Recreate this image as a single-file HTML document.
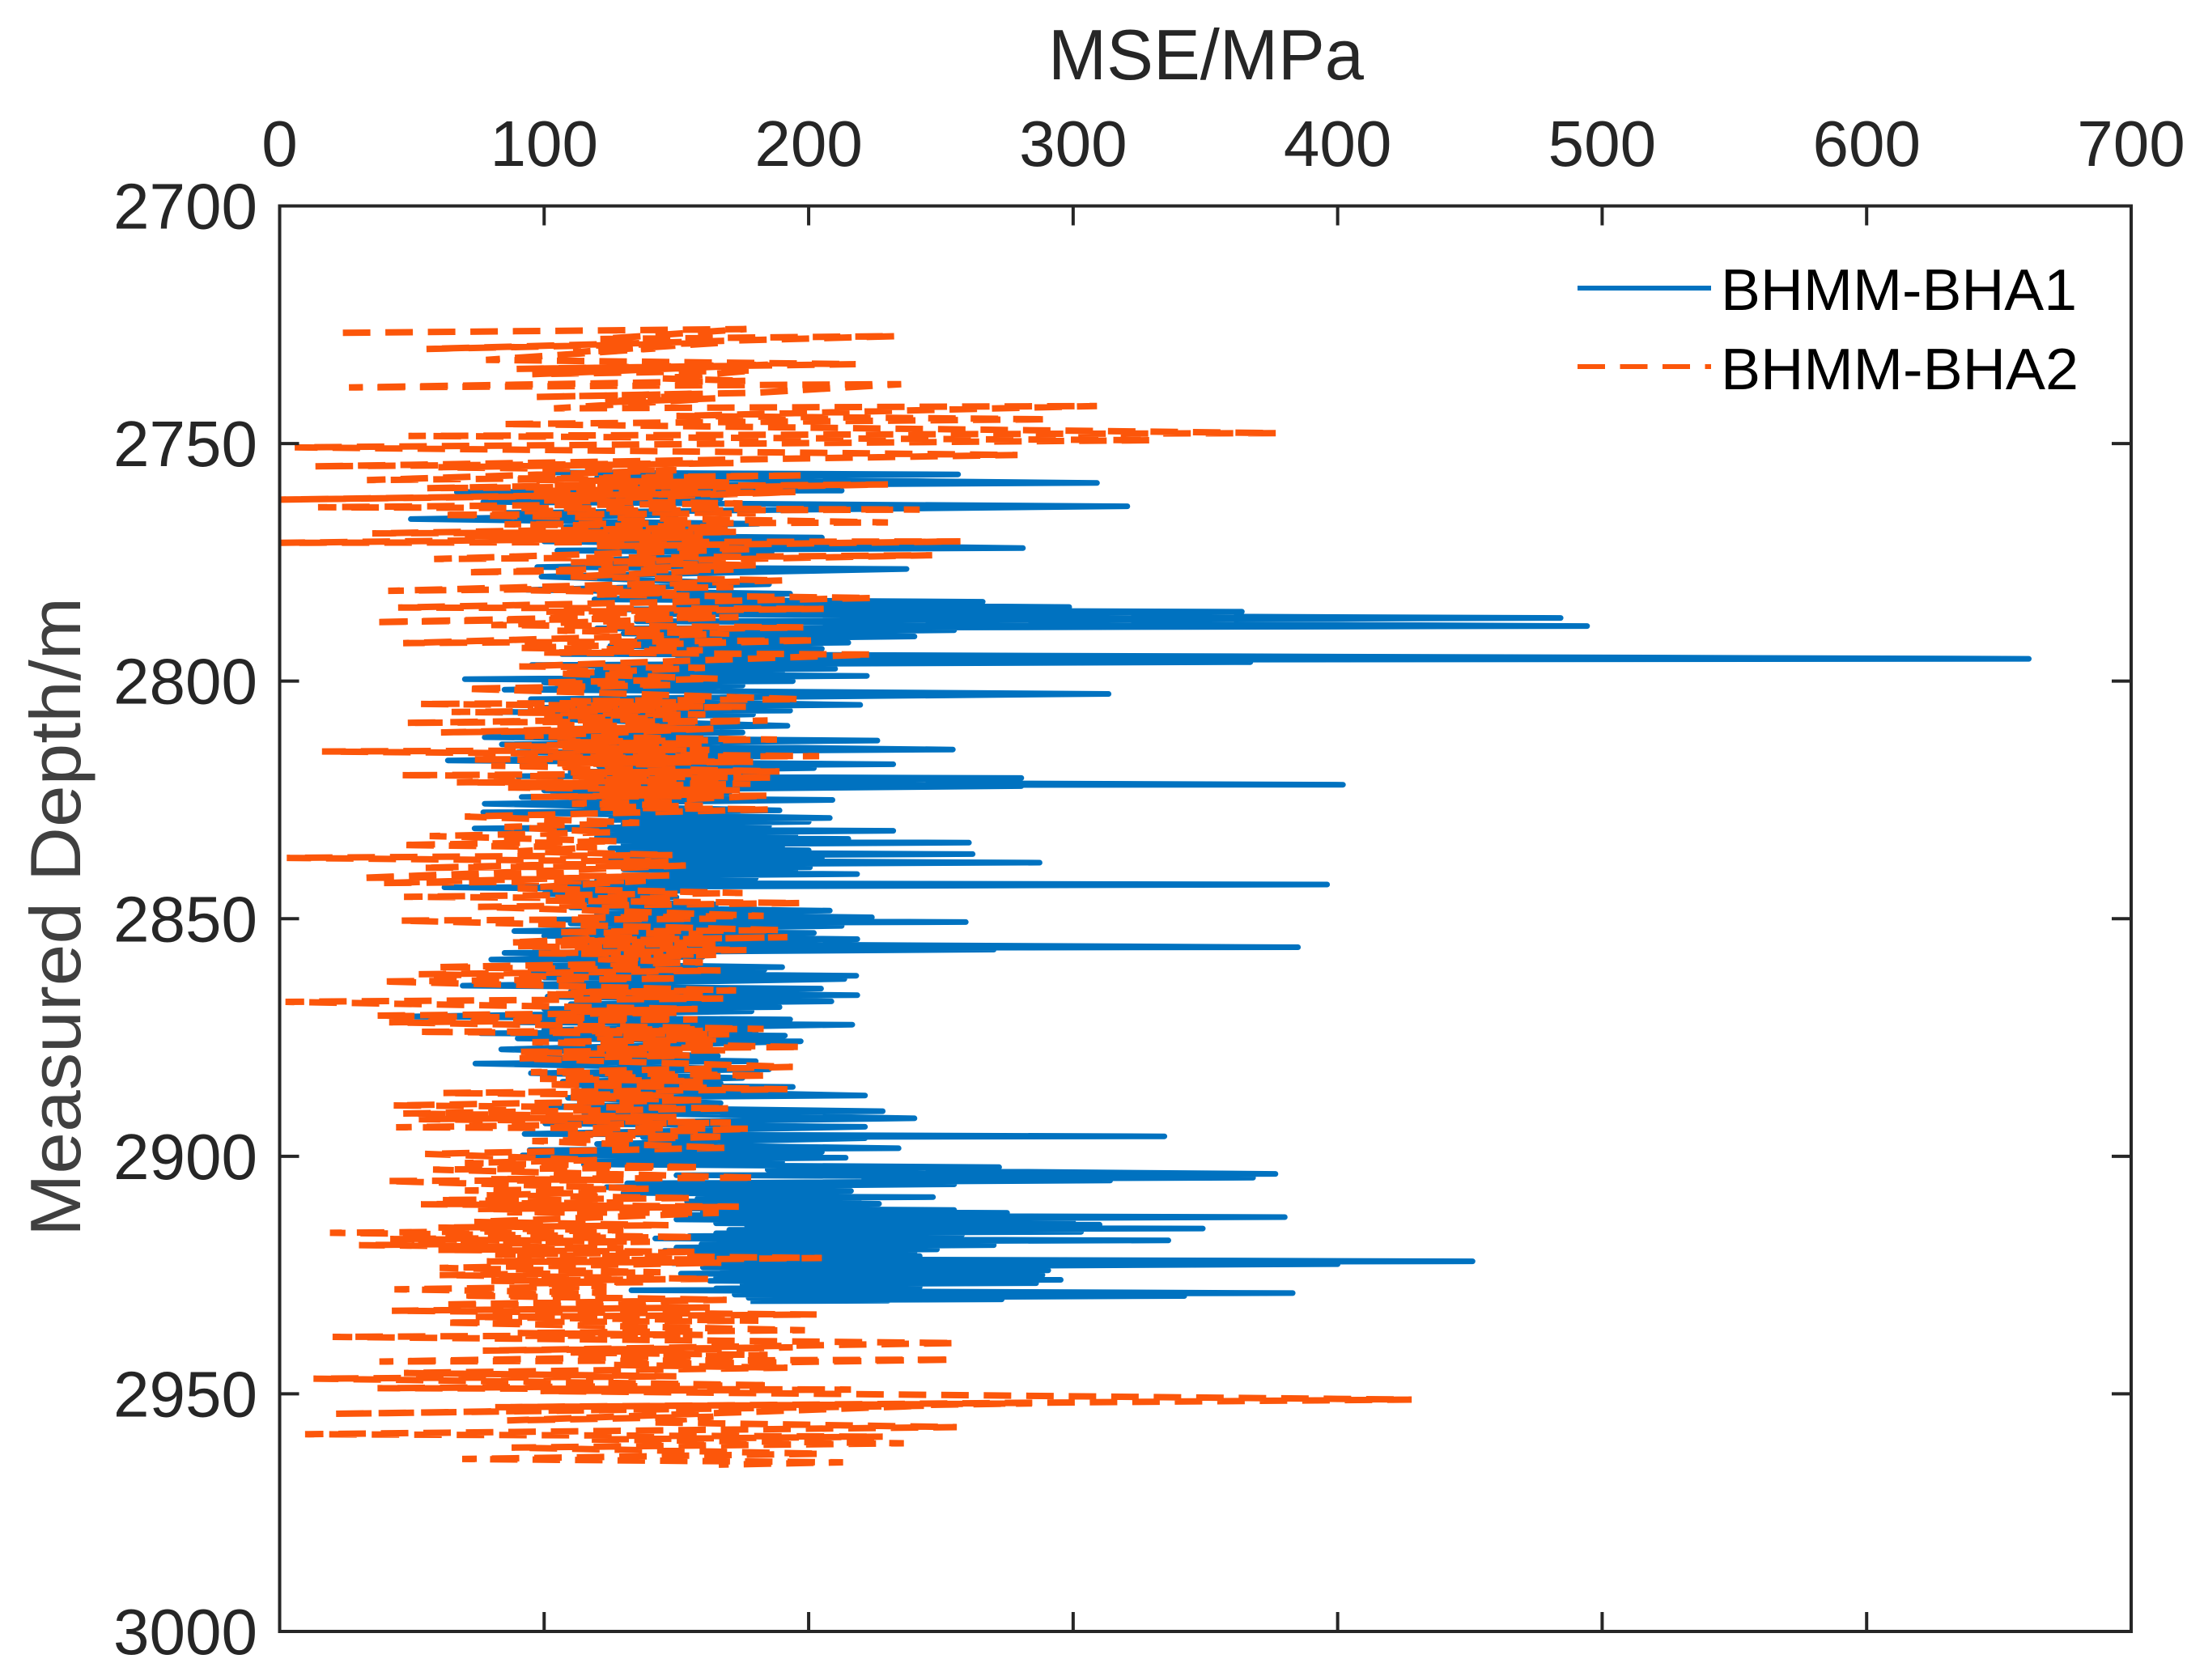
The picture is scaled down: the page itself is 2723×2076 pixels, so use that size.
<!DOCTYPE html>
<html lang="en">
<head>
<meta charset="utf-8">
<title>MSE vs Measured Depth</title>
<style>
html,body{margin:0;padding:0;background:#fff;}
svg{display:block;font-family:"Liberation Sans",sans-serif;}
</style>
</head>
<body>
<svg id="chart" xmlns="http://www.w3.org/2000/svg" width="2723" height="2076" viewBox="0 0 2723 2076">
  <rect x="0" y="0" width="2723" height="2076" fill="#ffffff"/>
  <g id="series-layer"></g>
  <g id="axes-layer"></g>
  <text x="1490" y="98" font-size="88" fill="#262626" text-anchor="middle" textLength="390" lengthAdjust="spacingAndGlyphs">MSE/MPa</text>
  <text transform="translate(99,1133) rotate(-90)" font-size="88" fill="#404040" text-anchor="middle" textLength="790" lengthAdjust="spacingAndGlyphs">Measured Depth/m</text>
  <g>
    <line x1="1949" y1="356" x2="2114" y2="356" stroke="#0072c0" stroke-width="6"/>
    <text x="2126" y="383" font-size="72" fill="#000000" textLength="440" lengthAdjust="spacingAndGlyphs">BHMM-BHA1</text>
    <line x1="1949" y1="453" x2="2114" y2="453" stroke="#fc560a" stroke-width="6" stroke-dasharray="34 18.5"/>
    <text x="2126" y="481" font-size="72" fill="#000000" textLength="442" lengthAdjust="spacingAndGlyphs">BHMM-BHA2</text>
  </g>
</svg>
<script>
const xTicks = [0,100,200,300,400,500,600,700];
const yTicks = [2700,2750,2800,2850,2900,2950,3000];

const bha1Mse = [
103,256.5,120,309,125,212.5,67,166.7,77,320.5,
85.7,150,49.6,181,108,170,95,205,100,281,
105,186,120,165,97.4,237,99,185,93.5,193,
119,265.8,150,298.5,125,363.8,140,484.3,135,494.3,
120,255,130,240,135,215,125,205,106.7,661.3,
150,367,95.3,210,120,190,110,222,70,194,
100,175,85,313.4,95,219.5,100,193,81.3,179,
103,192,110,175,77.5,226,84,254.5,90,190,
63.6,232,120.7,202,110,185,90,280.4,120,402,
120,280.4,100,170,91.5,209,77.5,189,77,208,
125,200,130,185,73.7,232,125,195,120,215,
125,260.6,130,190,125,200,128,262,130,205,
125,287.3,135,200.5,130,195,140,218.3,135,180,
120,170,110,396,62.3,160,100,150,105,165,
110,208,120,223.9,100,259.4,110,212.5,88.7,202,
100,218.4,110,385,120,270,85,160,80,144,
100,190,105,183.3,95,218,100,213.5,69.2,204.7,
110,218.4,101.3,208.6,110,189,100,178.4,46.7,193,
90,216.5,100,180,76,191,90,197,83.8,165.7,
97.4,180,74,185,95,175,107,166.7,110,194,
115,221.3,109,166.7,100,228,115,240,100.4,221.3,
92.6,334.5,137.4,221.3,120,234,94.5,205,91.8,214,
120,190,115,272,184.5,376.5,150,368,221,314,
131.4,255,123.6,210,140,216,130,205,160,247,
158,219,154,226.6,165,215,154,255,160,275,
151.7,380,150,300,165,310,176.7,308,180,349,
170,303,165,258,154.8,240,142,336,160,250,
159.5,270,150,248.5,145.5,240,160,242,165,451,
148.6,400,160,290.6,151.7,288.4,165,295.3,162.6,286,
175,242,165,240,133,383,172,342,177.3,273,
180,230,178
];
const bha1Depth = [
2756.1,2756.5,2757.2,2758.3,2758.9,2759.9,2760.2,2761.5,2762.3,2763.2,
2764.6,2765,2765.9,2766.9,2767.6,2768.5,2769.3,2769.8,2770.6,2772,
2772.5,2773,2774.6,2775.3,2776,2776.4,2778,2779.6,2780.8,2781.6,
2782.8,2783.3,2783.8,2784.4,2784.9,2785.4,2785.9,2786.7,2787.4,2788.4,
2788.9,2789.3,2790,2790.6,2791.3,2791.9,2792.6,2793.2,2794.3,2795.3,
2795.6,2796,2796.6,2797.4,2797.8,2798.3,2798.5,2798.9,2799.6,2800,
2800.3,2800.9,2801.8,2802.7,2803.8,2805,2805.6,2806.2,2806.5,2807,
2808,2809.4,2810,2810.8,2811.8,2812.5,2813.3,2814.4,2815,2815.8,
2816.7,2817.5,2817.9,2818.3,2819.1,2819.7,2820,2820.4,2821.2,2821.8,
2821.9,2822.1,2823,2823.6,2824.4,2825,2825.8,2827.2,2827.6,2828.8,
2829.2,2829.6,2830.1,2830.5,2831,2831.5,2832,2832.4,2832.8,2833.2,
2833.6,2834,2834.4,2834.8,2835.2,2835.6,2836,2836.4,2836.8,2837.2,
2837.7,2838.2,2838.6,2839.2,2839.6,2840,2840.3,2840.6,2841,2841.5,
2842,2842.3,2842.5,2842.8,2843.4,2844,2844.8,2845.5,2846.2,2847,
2847.6,2848.3,2849,2849.7,2850.2,2850.7,2851,2851.5,2852.6,2853,
2853.6,2854.3,2855.2,2856,2856.2,2856.5,2857.2,2858,2858.6,2858.8,
2859.5,2860.2,2860.4,2860.7,2861.4,2862,2862.4,2862.7,2864.1,2864.7,
2865.4,2866.1,2866.4,2867.4,2868,2868.6,2869,2869.5,2870.6,2871.2,
2871.8,2872.3,2873.4,2873.8,2874.1,2874.6,2875.2,2875.8,2877.5,2878.9,
2879.2,2880,2880.5,2881.7,2882.5,2883.5,2884.3,2884.6,2885,2885.4,
2886,2887.2,2887.7,2888.8,2889.6,2890.5,2890.8,2892,2893.1,2893.8,
2895.3,2895.8,2896,2896.2,2897.4,2898.3,2898.7,2899.1,2899.8,2900.3,
2900.8,2901.2,2901.7,2902.3,2902.8,2903.7,2904,2904.5,2904.8,2905.1,
2905.7,2905.9,2906.5,2906.7,2907,2907.3,2907.7,2908,2908.4,2908.6,
2908.9,2909.1,2909.5,2910,2910.3,2910.7,2911,2911.3,2911.6,2911.9,
2912.4,2912.8,2913.3,2913.9,2914.1,2914.4,2914.6,2914.8,2915,2915.2,
2915.5,2915.9,2916.2,2916.5,2916.8,2917,2917.3,2917.7,2918,2918.3,
2918.5,2918.7,2919.2,2919.6,2919.9,2920.3,2920.7,2921,2921.6,2922.1,
2922.5,2922.7,2923.4,2924,2924.7,2925,2925.5,2926,2926.2,2926.7,
2927,2927.5,2927.8,2928,2928.2,2928.8,2929.1,2929.4,2929.8,2930.1,
2930.3,2930.4,2930.5
];

const bha2Mse = [
23.9,176.5,120.8,233,55.5,166.7,111,142,78,217.8,
89.6,185.2,95.5,179.4,144.3,176.5,26.2,235,180.4,96.5,
158,122.8,164.7,103.7,309,150,291,84,377,48.7,
330,5.7,279,12.6,171.6,60,150,33,199,90,
170,55.5,230,95,165,0.5,195,100,175,14.5,
242,90,180,61,230,85,170,35,172.6,70,
160,0.5,257.4,120,180,58.4,246.7,110,180,70,
171.6,110,190,41,171.6,95,150,120,224,44.8,
205.7,100,165,35,173.5,80,198,105,170,46.7,
203,90,160,100,224,90.6,160.8,105,165.7,100,
150,70,197,110,160,52.7,176.4,95,150,65,
161,100,150,47,184.5,105,150,61,164,92.7,
188,105,160,85,162.5,110,150,16,204,100,
160,72.5,179,105,150,80,189,110,165,45,
186.5,115,150,67,178,86.4,174,120,165,95,
185,110.5,160,120,185,70,136,85,125.7,56.7,
128,45.3,120,90,148.5,2.7,147,53.4,153.6,30,
147.3,38.2,138.4,90,175,47,150,100,196.7,75,
183,110,165,45,189,105,160,86.7,192,110,
165,90,176.5,97.4,165,120,160,58.4,166.7,52.6,
151,38,172.6,110,160,100,167.7,2.2,158,110,
150,36,158,41.4,183,110,160,51.6,170,120,
165,95.5,198,120,170,91,155,90.6,194,95,
185,98.4,160,100,192,61.3,149,110,160,42.8,
170.6,46.7,150,52.6,170.6,44,178.4,109,169,95.5,
169,55,120,70,160,58,180.4,80,130,40,
140,70,120,78.3,156.4,60,130,53.4,173.6,75,
150,86,166,73.6,147,60,130,19,157.3,41.8,
140,30,130,60,158,81.5,205,78.3,167,60.5,
144,60.5,162.6,80,140,95.5,123.6,43.4,123.6,68,
169,61,162.6,42.4,203,73,181,62,198.6,90,
160,20,256,76.8,194,110,184.5,37.7,254.7,125,
192,47,150,12.8,186,37,216,98.6,428,81.5,
284.4,20,244,86,164,140,256,9.6,228,117,
236,87.7,205,69,213,166
];
const bha2Depth = [
2726.7,2725.9,2728,2727.4,2730.1,2728.8,2730.8,2730,2732.4,2733.3,
2734.3,2733.4,2735.4,2734.6,2736.3,2736.8,2738.2,2737.5,2739.3,2740.2,
2739.5,2741.3,2740.5,2742.6,2742.1,2744.2,2744.9,2745.9,2747.8,2748.4,
2749.3,2750.8,2752.4,2754.8,2754.1,2755,2755.6,2757.7,2756.7,2757.6,
2758.2,2759.4,2758.6,2760,2760.6,2761.8,2760.2,2762,2762.6,2763.4,
2763.9,2764.2,2764.7,2765,2766.6,2767,2767.6,2768.9,2768.6,2769.4,
2769.8,2770.9,2770.6,2771.6,2772.2,2774.3,2773.5,2775,2775.6,2777.1,
2776.5,2778,2778.8,2781,2780.2,2780.9,2781.4,2781.8,2782.5,2784.5,
2784.8,2785.4,2786,2787.6,2786.5,2788.2,2788.7,2789.4,2790,2792,
2791.4,2793,2793.5,2794,2794.4,2796.9,2797.2,2798.4,2799.5,2800.3,
2800.8,2801.6,2803.8,2804.2,2804.5,2804.8,2805.4,2805.9,2806.1,2806.5,
2807,2807.4,2807.9,2808.8,2808.3,2809.2,2809.6,2810.8,2810,2811.6,
2812.3,2812.8,2813.2,2813.6,2814.5,2814.2,2814.5,2814.8,2815.8,2816,
2816.2,2816.5,2817,2817.3,2817.6,2817.8,2819,2819.2,2819.5,2819.8,
2820.3,2820.7,2821,2821.3,2821.6,2822.4,2823,2823.4,2823.8,2824.4,
2824.1,2825.8,2826.2,2826.6,2827,2828.5,2829.8,2830.7,2831.8,2832.6,
2833.7,2834.5,2835,2835.8,2836.6,2837.2,2838,2839.3,2838.8,2841.4,
2840.9,2842.5,2842,2843.6,2844.6,2845.4,2845.8,2846.2,2846.7,2847.5,
2849.4,2849.8,2850,2850.4,2852.4,2852.8,2853.2,2855,2853.9,2854.6,
2855.2,2855.8,2856.6,2857.3,2857.6,2858.5,2859.2,2860.2,2860.9,2861.7,
2862.6,2863.2,2865.1,2865.4,2865.7,2865.9,2866.8,2867.5,2869,2869.5,
2869.8,2870.4,2871.2,2871.8,2873.2,2873.4,2873.6,2873.8,2874.3,2875,
2875.4,2876,2877,2877.3,2877.7,2878,2878.8,2879.4,2881.2,2882.3,
2883,2883.7,2884.2,2884.9,2885.9,2886.7,2887.1,2887.6,2888.2,2889.3,
2889.9,2891,2891.7,2892.2,2892.9,2893.9,2894.2,2895.4,2895.9,2896.8,
2898.2,2899.5,2900.8,2901.4,2902.3,2902.8,2904.5,2904.8,2905,2905.2,
2906.8,2907.2,2907.6,2908.2,2908.8,2909.2,2909.7,2910.1,2910.6,2911.1,
2911.5,2911.8,2911.9,2913.8,2914.5,2915,2915.6,2916.1,2917,2917.4,
2918,2918.7,2919.3,2919.7,2920.1,2920.7,2921.4,2922.1,2922.4,2923.5,
2924.4,2925,2925.8,2926.2,2926.5,2926.7,2927.4,2928,2928.7,2929.3,
2930.2,2931.2,2931.8,2932.5,2933.3,2933.8,2934.6,2935,2936.6,2937.2,
2937.6,2938,2939.3,2940.9,2940.2,2941.3,2941.8,2943.2,2942.8,2943.9,
2944.5,2945.6,2946.3,2946.8,2948.2,2948.8,2949.1,2949.4,2951.2,2952.8,
2952,2954.2,2952.5,2955.6,2954.8,2956,2957,2958.5,2959,2959.6,
2960.4,2961.3,2962.6,2963.7,2964.4,2964.9
];

const SVG_NS = 'http://www.w3.org/2000/svg';
const plotLeft = 345.5, plotRight = 2633, plotTop = 254.5, plotBottom = 2016;
const xMin = 0, xMax = 700, yMin = 2700, yMax = 3000;
function xScale(v){ return plotLeft + (v - xMin) / (xMax - xMin) * (plotRight - plotLeft); }
function yScale(v){ return plotTop + (v - yMin) / (yMax - yMin) * (plotBottom - plotTop); }

function seriesPoints(mse, depth){
  const n = Math.min(mse.length, depth.length);
  const out = [];
  for (let i = 0; i < n; i++) out.push(xScale(mse[i]).toFixed(1) + ',' + yScale(depth[i]).toFixed(1));
  return out.join(' ');
}

const seriesLayer = document.getElementById('series-layer');
const axesLayer = document.getElementById('axes-layer');

const line1 = document.createElementNS(SVG_NS, 'polyline');


line1.setAttribute('points', seriesPoints(bha1Mse, bha1Depth));
line1.setAttribute('fill', 'none');
line1.setAttribute('stroke', '#0072c0');
line1.setAttribute('stroke-width', '7');
line1.setAttribute('stroke-linejoin', 'round');
seriesLayer.appendChild(line1);

const line2 = document.createElementNS(SVG_NS, 'polyline');


line2.setAttribute('points', seriesPoints(bha2Mse, bha2Depth));
line2.setAttribute('fill', 'none');
line2.setAttribute('stroke', '#fc560a');
line2.setAttribute('stroke-width', '8');
line2.setAttribute('stroke-dasharray', '34 18.5');
seriesLayer.appendChild(line2);

const frame = document.createElementNS(SVG_NS, 'rect');


frame.setAttribute('x', plotLeft);
frame.setAttribute('y', plotTop);
frame.setAttribute('width', plotRight - plotLeft);
frame.setAttribute('height', plotBottom - plotTop);
frame.setAttribute('fill', 'none');
frame.setAttribute('stroke', '#262626');
frame.setAttribute('stroke-width', '4');
axesLayer.appendChild(frame);

xTicks.forEach(function(t){
  const x = xScale(t);
  const top = document.createElementNS(SVG_NS, 'line');
  
  
  top.setAttribute('x1', x); top.setAttribute('x2', x);
  top.setAttribute('y1', plotTop); top.setAttribute('y2', plotTop + 24);
  top.setAttribute('stroke', '#262626'); top.setAttribute('stroke-width', '4');
  axesLayer.appendChild(top);
  const bottom = document.createElementNS(SVG_NS, 'line');
  
  
  bottom.setAttribute('x1', x); bottom.setAttribute('x2', x);
  bottom.setAttribute('y1', plotBottom); bottom.setAttribute('y2', plotBottom - 24);
  bottom.setAttribute('stroke', '#262626'); bottom.setAttribute('stroke-width', '4');
  axesLayer.appendChild(bottom);
  const label = document.createElementNS(SVG_NS, 'text');
  
  
  label.setAttribute('x', x);
  label.setAttribute('y', 205);
  label.setAttribute('font-size', '80');
  label.setAttribute('fill', '#262626');
  label.setAttribute('text-anchor', 'middle');
  label.textContent = String(t);
  axesLayer.appendChild(label);
});

yTicks.forEach(function(t){
  const y = yScale(t);
  const left = document.createElementNS(SVG_NS, 'line');
  
  
  left.setAttribute('x1', plotLeft); left.setAttribute('x2', plotLeft + 24);
  left.setAttribute('y1', y); left.setAttribute('y2', y);
  left.setAttribute('stroke', '#262626'); left.setAttribute('stroke-width', '4');
  axesLayer.appendChild(left);
  const right = document.createElementNS(SVG_NS, 'line');
  
  
  right.setAttribute('x1', plotRight); right.setAttribute('x2', plotRight - 24);
  right.setAttribute('y1', y); right.setAttribute('y2', y);
  right.setAttribute('stroke', '#262626'); right.setAttribute('stroke-width', '4');
  axesLayer.appendChild(right);
  const label = document.createElementNS(SVG_NS, 'text');
  
  
  label.setAttribute('x', 318);
  label.setAttribute('y', y + 28);
  label.setAttribute('font-size', '80');
  label.setAttribute('fill', '#262626');
  label.setAttribute('text-anchor', 'end');
  label.textContent = String(t);
  axesLayer.appendChild(label);
});
</script>
</body>
</html>
